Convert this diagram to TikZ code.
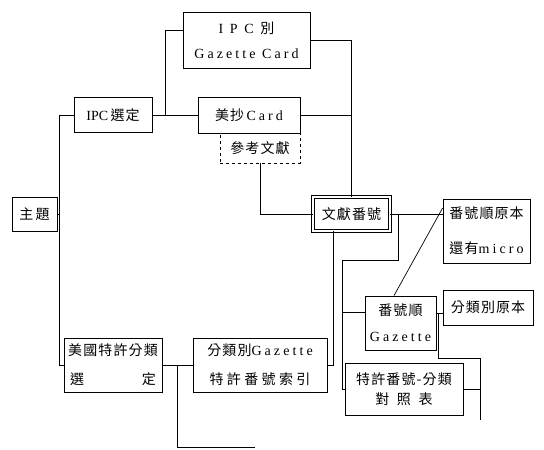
\documentclass[tikz,border=0pt]{standalone}
\usepackage{fontspec}
\setmainfont{Liberation Serif}
\newfontfamily\cjk[LetterSpace=8]{Noto Sans CJK TC}
\newfontfamily\spl[LetterSpace=22]{Liberation Serif}
\begin{document}
\begin{tikzpicture}[x=1pt,y=-1pt,
  box/.style={draw, line width=0.8pt, inner sep=0pt, align=center,
              font=\fontsize{14}{16}\selectfont},
  conn/.style={line width=0.7pt}]
\useasboundingbox[fill=white] (0,0) rectangle (544,450);

% boxes
\node[box, minimum width=127pt, minimum height=56pt] (ipcg) at (246.5,40)
  {{\spl I P C\ }{\cjk 別}\\[9pt]{\spl Gazette Card}};
\node[box, minimum width=78pt, minimum height=35pt] (ipcs) at (113,115)
  {IPC\,{\cjk 選定}};
\node[box, minimum width=102pt, minimum height=36pt] (meicard) at (249,115)
  {{\cjk 美抄}\,{\spl Card}};
\node[box, dashed, minimum width=80pt, minimum height=30pt] (ref) at (260,148)
  {{\cjk 參考文獻}};
\node[box, minimum width=45pt, minimum height=34pt] (topic) at (34.5,214)
  {{\cjk 主\,題}};
\node[box, double, double distance=2pt, line width=0.7pt, minimum width=77pt, minimum height=34pt] (docno) at (351.5,214)
  {{\cjk 文獻番號}};
\node[box, minimum width=87pt, minimum height=64pt] (origin) at (486.5,231)
  {{\cjk 番號順原本}\\[19pt]{\cjk 還有}{\spl micro}};
\node[box, minimum width=71pt, minimum height=54pt] (gaz) at (400.5,323)
  {{\cjk 番號順}\\[10pt]{\spl Gazette}};
\node[box, minimum width=90pt, minimum height=35pt] (clsorig) at (488,307.5)
  {{\cjk 分類別原本}};
\node[box, minimum width=98pt, minimum height=54pt] (uscls) at (113,365)
  {{\cjk 美國特許分類}\\[13pt]{\cjk 選\hspace{58pt}定}};
\node[box, minimum width=134pt, minimum height=54pt] (clsgaz) at (260,365)
  {{\cjk 分類別}{\spl Gazette}\\[13pt]{\cjk\addfontfeature{LetterSpace=24} 特許番號索引}};
\node[box, minimum width=118pt, minimum height=52pt] (table) at (404,389)
  {{\cjk 特許番號-分類}\\[4pt]{\cjk\addfontfeature{LetterSpace=55} 對照表}};

% junctions and free ends
\coordinate (j1) at (165,115);
\coordinate (j2) at (398,214);
\coordinate (k2) at (342,260);
\coordinate (j3) at (438,313);
\coordinate (k3) at (480,358);
\coordinate (e1) at (480,420);
\coordinate (j4) at (177,365);
\coordinate (e2) at (255,447);

% connectors
\draw[conn] (ipcs.west) -- ++(-14,0) |- (uscls.west);
\draw[conn] (topic.east) -- ++(3,0);
\draw[conn] (ipcs.east) -- (meicard.west);
\draw[conn] (j1) |- ([yshift=10pt]ipcg.west);
\draw[conn] (ipcg.east) -| (docno.north);
\draw[conn] (meicard.east) -- (meicard.east -| docno.north);
\draw[conn] (ref.south) |- (docno.west);
\draw[conn] (docno.east) -- (docno.east -| origin.west);
\draw[conn] (j2) |- (k2) |- (table.west);
\draw[conn] ([yshift=11pt]gaz.west) -- ++(-23,0);
\draw[conn] ([xshift=-18.5pt]docno.south) |- (clsgaz.east);
\draw[conn] ([xshift=-6.5pt]gaz.north) -- ([yshift=23pt]origin.west);
\draw[conn] ([yshift=10pt]gaz.east) -- ([yshift=-5.5pt]clsorig.west);
\draw[conn] (j3) |- (k3) -- (e1);
\draw[conn] (table.east) -- (table.east -| e1);
\draw[conn] (uscls.east) -- (clsgaz.west);
\draw[conn] (j4) |- (e2);
\end{tikzpicture}
\end{document}
